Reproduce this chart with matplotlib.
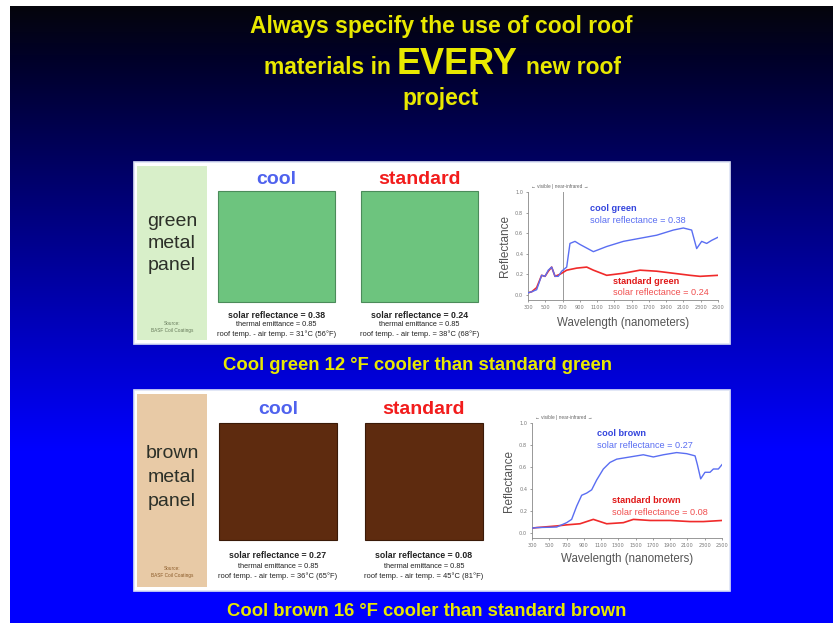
import numpy as np
import matplotlib.pyplot as plt
from matplotlib.patches import Rectangle

W, H = 833, 623

# reflectance spectra, wavelength in nm
green_cool_wl = [300, 343, 400, 458, 497, 535, 574, 613, 651, 690, 748, 786, 844, 902,
                 1057, 1211, 1404, 1597, 1790, 1983, 2099, 2195, 2253, 2311, 2369, 2427, 2500]
green_cool_r = [0.02, 0.03, 0.05, 0.19, 0.18, 0.24, 0.27, 0.18, 0.18, 0.23, 0.27, 0.50, 0.52, 0.49,
                0.42, 0.47, 0.52, 0.55, 0.58, 0.63, 0.65, 0.63, 0.45, 0.52, 0.50, 0.53, 0.56]
green_std_wl = [300, 343, 400, 458, 497, 535, 574, 613, 670, 748, 864, 980,
                1057, 1211, 1404, 1597, 1790, 1983, 2176, 2292, 2500]
green_std_r = [0.02, 0.03, 0.07, 0.19, 0.18, 0.23, 0.27, 0.18, 0.20, 0.24, 0.26, 0.27,
               0.24, 0.19, 0.21, 0.24, 0.23, 0.21, 0.19, 0.18, 0.19]

brown_cool_wl = [300, 354, 586, 701, 759, 817, 875, 933, 991, 1049, 1126, 1203, 1281, 1435,
                 1589, 1705, 1821, 1975, 2091, 2188, 2215, 2253, 2303, 2361, 2400, 2458, 2500]
brown_cool_r = [0.04, 0.045, 0.05, 0.09, 0.12, 0.24, 0.34, 0.36, 0.39, 0.48, 0.58, 0.64, 0.67, 0.69,
                0.71, 0.69, 0.71, 0.73, 0.72, 0.70, 0.62, 0.49, 0.55, 0.55, 0.58, 0.58, 0.62]
brown_std_wl = [300, 354, 586, 701, 856, 1010, 1165, 1358, 1474, 1667, 1898, 2130, 2284, 2500]
brown_std_r = [0.04, 0.045, 0.06, 0.07, 0.08, 0.12, 0.08, 0.09, 0.12, 0.11, 0.11, 0.10, 0.10, 0.11]

wl_ticks = [300, 500, 700, 900, 1100, 1300, 1500, 1700, 1900, 2100, 2300, 2500]
r_ticks = [0.0, 0.2, 0.4, 0.6, 0.8, 1.0]

title_lines = ["Always specify the use of cool roof", "project"]
captions = ["Cool green 12 \u00b0F cooler than standard green",
            "Cool brown 16 \u00b0F cooler than standard brown"]

green_props = {
    "cool": ["solar reflectance = 0.38", "thermal emittance = 0.85",
             "roof temp. - air temp. = 31\u00b0C (56\u00b0F)"],
    "standard": ["solar reflectance = 0.24", "thermal emittance = 0.85",
                 "roof temp. - air temp. = 38\u00b0C (68\u00b0F)"],
}
brown_props = {
    "cool": ["solar reflectance = 0.27", "thermal emittance = 0.85",
             "roof temp. - air temp. = 36\u00b0C (65\u00b0F)"],
    "standard": ["solar reflectance = 0.08", "thermal emittance = 0.85",
                 "roof temp. - air temp. = 45\u00b0C (81\u00b0F)"],
}

plain = ['Liberation Sans', 'DejaVu Sans']
YEL = '#e8e800'
BLUE = '#4f62ee'
RED = '#f21c1c'

fig = plt.figure(figsize=(W / 100, H / 100), dpi=100)
fig.patch.set_facecolor('white')

bg = fig.add_axes([0, 0, 1, 1])
bg.set_xlim(0, W)
bg.set_ylim(H, 0)
bg.axis('off')

# dark-to-blue vertical gradient
rows = np.linspace(6, H, 300)
b = np.clip(12 + (rows - 6) / (450 - 6) * 243, 12, 255) / 255
grad = np.zeros((300, 1, 3))
grad[:, 0, 2] = b
grad[:, 0, 1] = np.clip(0.02 - (rows - 6) / 3000, 0, 1)
grad[:, 0, 0] = np.clip(0.02 - (rows - 6) / 3000, 0, 1)
bg.imshow(grad, extent=(10, W, H, 6), aspect='auto', interpolation='bilinear', zorder=0)

# title
tkw = dict(color=YEL, fontweight='bold', family=plain, ha='center', va='center')
bg.text(441, 27, title_lines[0], fontsize=16.5, **tkw)
bg.text(327, 68, "materials in", fontsize=16.5, **tkw)
bg.text(457, 64, "EVERY", fontsize=26, **tkw)
bg.text(574, 68, "new roof", fontsize=16.5, **tkw)
bg.text(441, 98, title_lines[1], fontsize=16.5, **tkw)


def panel(top, bottom, strip_color, strip_text, src_color, square_fill, square_edge,
          props, sq_y0, sq_y1, sq_x, head_y, txt_y, source_y):
    bg.add_patch(Rectangle((134, top), 596, bottom - top, facecolor='white',
                           edgecolor='#dde3f5', lw=1.2, zorder=1))
    bg.add_patch(Rectangle((137, top + 4), 70, bottom - top - 8, facecolor=strip_color,
                           edgecolor='none', zorder=2))
    for word, y in zip(strip_text[0], strip_text[1]):
        bg.text(172, y, word, fontsize=14, color='#2c3028', family=plain,
                ha='center', va='center', zorder=3)
    bg.text(172, source_y, "Source:\nBASF Coil Coatings", fontsize=3.4, color=src_color,
            family=plain, ha='center', va='center', linespacing=1.3, zorder=3)
    for (x0, x1), key, col in zip(sq_x, ["cool", "standard"], [BLUE, RED]):
        bg.add_patch(Rectangle((x0, sq_y0), x1 - x0, sq_y1 - sq_y0, facecolor=square_fill,
                               edgecolor=square_edge, lw=0.8, zorder=3))
        cx = (x0 + x1) / 2
        bg.text(cx, head_y, key, fontsize=14, fontweight='bold', color=col,
                family=plain, ha='center', va='center', zorder=3)
        sizes = [6.3, 5.3, 5.4]
        for i, line in enumerate(props[key]):
            bg.text(cx, txt_y[i], line, fontsize=sizes[i],
                    fontweight='bold' if i == 0 else 'normal', color='#222222',
                    family=plain, ha='center', va='center', zorder=3)


panel(162, 344, '#d8efc9', (["green", "metal", "panel"], [221, 243, 266]), '#667a5a',
      '#6dc47e', '#4b8b5a', green_props, 191, 302, [(218, 335), (361, 478)], 179,
      [315, 325, 334], 327)
panel(390, 591, '#e8caa6', (["brown", "metal", "panel"], [453, 477, 501]), '#8a5a28',
      '#5e2b0f', '#3a1a08', brown_props, 423, 540, [(219, 337), (365, 483)], 409,
      [556, 566, 576], 572)

bg.text(418, 365, captions[0], fontsize=13.3, **tkw)
bg.text(427, 612, captions[1], fontsize=13.3, **tkw)


def px_axes(x0, y0, x1, y1):
    return fig.add_axes([x0 / W, 1 - y1 / H, (x1 - x0) / W, (y1 - y0) / H])


def spectrum(box, cool, std, cool_txt, std_txt, cool_lab, std_lab, vline, xpad):
    ax = px_axes(*box)
    ax.plot(cool[0], cool[1], color='#5a6ef2', lw=1.0, zorder=3)
    ax.plot(std[0], std[1], color='#f02a2a', lw=1.2, zorder=2)
    if vline:
        ax.axvline(700, color='#999999', lw=0.7, zorder=1)
    ax.set_xlim(300, 2500)
    ax.set_ylim(-0.05, 1.0)
    ax.set_xticks(wl_ticks)
    ax.set_yticks(r_ticks)
    ax.set_xticklabels([str(t) for t in wl_ticks])
    ax.set_yticklabels([f"{t:.1f}" for t in r_ticks])
    ax.tick_params(labelsize=3.6, colors='#777777', length=1.5, width=0.5, pad=2)
    for s in ['top', 'right']:
        ax.spines[s].set_visible(False)
    for s in ['left', 'bottom']:
        ax.spines[s].set_color('#888888')
        ax.spines[s].set_linewidth(0.6)
    ax.set_ylabel("Reflectance", fontsize=8.5, color='#555555', family=plain, labelpad=3)
    ax.set_xlabel("Wavelength (nanometers)", fontsize=8.3, color='#555555', family=plain,
                  labelpad=xpad)
    ax.text(cool_txt[0], cool_txt[1], cool_lab[0], color='#3344dd', fontsize=6.6,
            fontweight='bold', family=plain, va='center')
    ax.text(cool_txt[0], cool_txt[2], cool_lab[1], color='#5a6ef2', fontsize=6.6,
            family=plain, va='center')
    ax.text(std_txt[0], std_txt[1], std_lab[0], color='#e01818', fontsize=6.6,
            fontweight='bold', family=plain, va='center')
    ax.text(std_txt[0], std_txt[2], std_lab[1], color='#f05050', fontsize=6.6,
            family=plain, va='center')
    ax.text(340, 1.05, "\u2190 visible | near-infrared \u2192", fontsize=3.4, color='#666666',
            family=plain, clip_on=False, va='center')
    ax.patch.set_alpha(0)
    return ax


spectrum((528, 192, 718, 300), (green_cool_wl, green_cool_r), (green_std_wl, green_std_r),
         (1018, 0.84, 0.72), (1284, 0.13, 0.02),
         ("cool green", "solar reflectance = 0.38"),
         ("standard green", "solar reflectance = 0.24"), True, 5)
spectrum((532, 423, 722, 538), (brown_cool_wl, brown_cool_r), (brown_std_wl, brown_std_r),
         (1053, 0.90, 0.79), (1226, 0.29, 0.18),
         ("cool brown", "solar reflectance = 0.27"),
         ("standard brown", "solar reflectance = 0.08"), False, 4)

fig.savefig('out.png', dpi=100, facecolor='white')
